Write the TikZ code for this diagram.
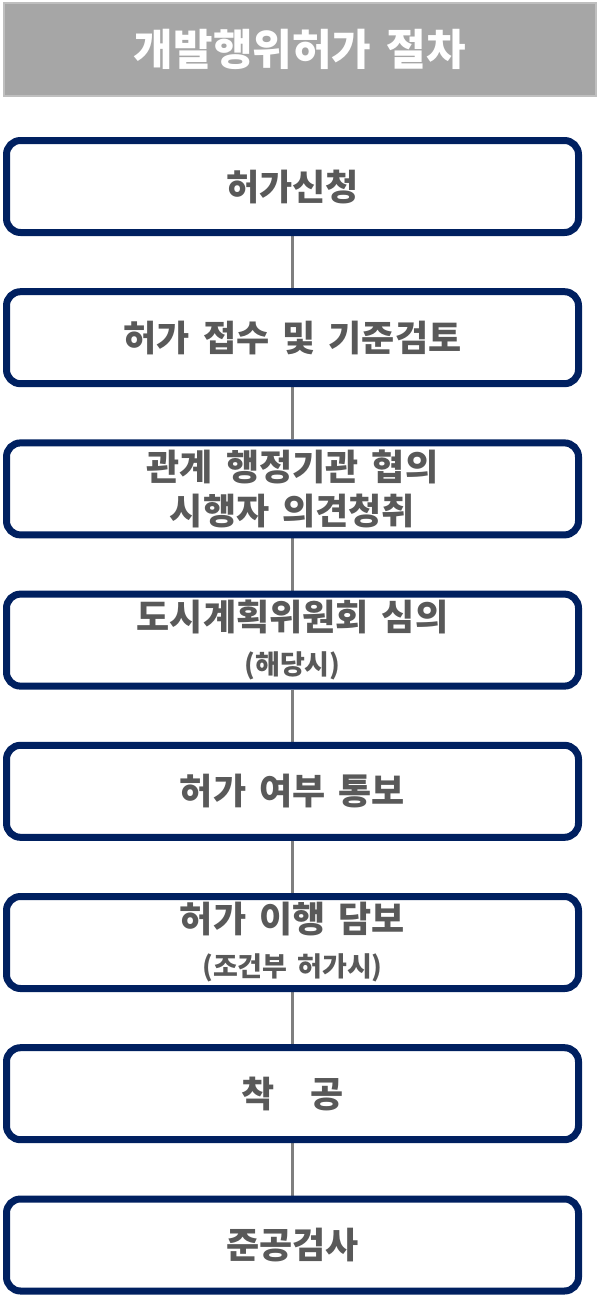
\documentclass[tikz,border=0pt]{standalone}
\usepackage{fontspec}
\newfontfamily\krfont{Noto Sans CJK KR}[WordSpace=1.6]
\usetikzlibrary{backgrounds}
\definecolor{navy}{HTML}{002060}
\definecolor{txtgray}{HTML}{595959}
\definecolor{titlegray}{HTML}{A6A6A6}
\definecolor{titleedge}{HTML}{BFBFBF}
\definecolor{linkgray}{HTML}{7F7F7F}
\tikzset{
  stepbox/.style={rectangle, rounded corners=14pt, draw=navy, line width=7pt,
    fill=white, align=center, inner sep=0pt, minimum width=572pt, minimum height=92pt,
    text=txtgray, font=\krfont\bfseries\fontsize{36}{44}\selectfont},
  titlebar/.style={rectangle, draw=titleedge, line width=2pt, fill=titlegray,
    minimum width=592pt, minimum height=93pt, inner sep=0pt,
    text=white, font=\krfont\bfseries\fontsize{43}{50}\selectfont},
  link/.style={draw=linkgray, line width=2.5pt},
}
\newcommand{\subnote}[1]{{\fontsize{27}{33}\selectfont #1}}

\begin{document}
\begin{tikzpicture}[x=1pt, y=-1pt]
\useasboundingbox (0,0) rectangle (600,1296);
% title
\node[titlebar] at (300,49.5) (title) {개발행위허가 절차};
% steps
\node[stepbox] at (292.5,186.5)  (apply)   {허가신청};
\node[stepbox] at (292.5,337.7)  (review)  {허가 접수 및 기준검토};
\node[stepbox] at (292.5,488.9)  (consult) {관계 행정기관 협의\\시행자 의견청취};
\node[stepbox] at (292.5,640.1)  (council) {도시계획위원회 심의\\\subnote{(해당시)}};
\node[stepbox] at (292.5,791.3)  (notice)  {허가 여부 통보};
\node[stepbox] at (292.5,942.5)  (bond)    {허가 이행 담보\\\subnote{(조건부 허가시)}};
\node[stepbox] at (292.5,1093.7) (start)   {착\hspace{36pt}공};
\node[stepbox] at (292.5,1245)   (finish)  {준공검사};
% links
\begin{scope}[on background layer]
\foreach \a/\b in {apply/review, review/consult, consult/council, council/notice,
                   notice/bond, bond/start, start/finish}
  \draw[link] (\a.south) -- (\b.north);
\end{scope}
\end{tikzpicture}
\end{document}
